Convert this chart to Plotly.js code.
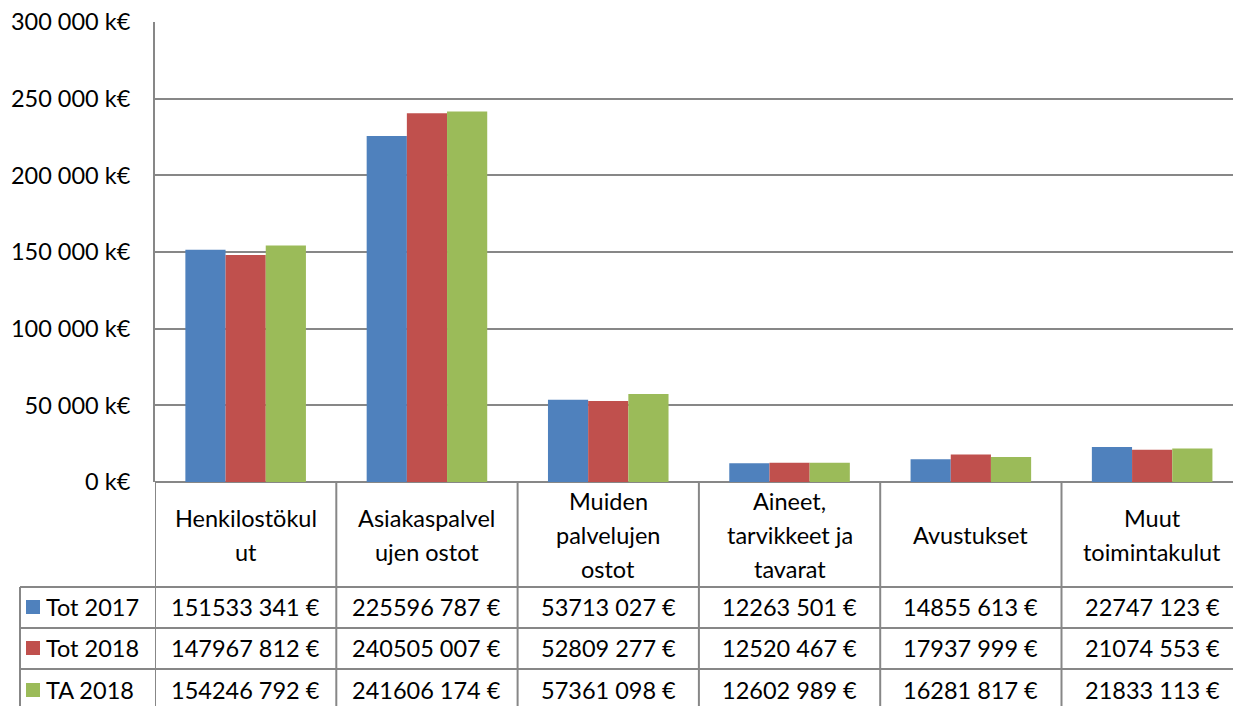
<!DOCTYPE html>
<html>
<head>
<meta charset="utf-8">
<script src="https://cdn.plot.ly/plotly-3.0.1.min.js"></script>
<style>html,body{margin:0;padding:0;background:#fff;}#chart{width:1233px;height:706px;}</style>
</head>
<body>
<div id="chart"></div>
<script>
// ---- data ----
const categories = ["Henkilostökul<br>ut", "Asiakaspalvel<br>ujen ostot", "Muiden<br>palvelujen<br>ostot", "Aineet,<br>tarvikkeet ja<br>tavarat", "Avustukset", "Muut<br>toimintakulut"];
const seriesNames = ["Tot 2017", "Tot 2018", "TA 2018"];
const tot2017 = [151533341, 225596787, 53713027, 12263501, 14855613, 22747123];
const tot2018 = [147967812, 240505007, 52809277, 12520467, 17937999, 21074553];
const ta2018  = [154246792, 241606174, 57361098, 12602989, 16281817, 21833113];
const yTickVals = [0, 50000, 100000, 150000, 200000, 250000, 300000];
const yTickText = ["0 k€", "50 000 k€", "100 000 k€", "150 000 k€", "200 000 k€", "250 000 k€", "300 000 k€"];

// ---- styling ----
const colors = ["#4F81BD", "#C0504D", "#9BBB59"];
const FONT = "Lato";
const FS = 23.5;
const GRID = "#878787";
const W = 1233, H = 706;
const plotL = 155, plotR = 1233, plotT = 22, plotB = 482;
const px2x = p => (p - plotL) / (plotR - plotL);
const py2y = p => (plotB - p) / (plotB - plotT);
const catW = 181.3;
const xMax = -0.5 + (plotR - plotL) / catW;

const allSeries = [tot2017, tot2018, ta2018];
const xIdx = categories.map((c, i) => i);

const traces = allSeries.map((vals, s) => ({
  type: "bar",
  name: seriesNames[s],
  x: xIdx,
  y: vals.map(v => v / 1000),
  marker: {color: colors[s], line: {width: 0}},
  hoverinfo: "skip"
}));

function fmtEuro(v) {
  const hi = Math.floor(v / 1000);
  const lo = String(v % 1000).padStart(3, "0");
  return hi + " " + lo + " €";
}

const shapes = [];
const annotations = [];
const lineStyle = {color: GRID, width: 2};

// table horizontal lines
const rowTops = [587, 628, 669];
rowTops.forEach(py => shapes.push({type: "line", xref: "paper", yref: "paper",
  x0: px2x(20), x1: 1.02, y0: py2y(py), y1: py2y(py), line: lineStyle}));
// left border of legend column
shapes.push({type: "line", xref: "paper", yref: "paper", x0: px2x(20), x1: px2x(20),
  y0: py2y(587), y1: py2y(720), line: lineStyle});
// vertical lines at category boundaries
for (let i = 0; i <= categories.length; i++) {
  shapes.push({type: "line", xref: "x", yref: "paper", x0: i - 0.5, x1: i - 0.5,
    y0: py2y(482), y1: py2y(720), line: lineStyle});
}

// header labels (each line separately)
const lineGap = 34;
categories.forEach((c, i) => {
  const lines = c.split("<br>");
  lines.forEach((t, k) => {
    const cy = 535 + (k - (lines.length - 1) / 2) * lineGap;
    annotations.push({xref: "x", yref: "paper", x: i, y: py2y(cy), text: t,
      showarrow: false, xanchor: "center", yanchor: "middle",
      font: {family: FONT, size: FS, color: "#000"}});
  });
});

// data rows
const rowCenters = [607, 648, 690];
allSeries.forEach((vals, s) => {
  const cy = rowCenters[s];
  shapes.push({type: "rect", xref: "paper", yref: "paper",
    x0: px2x(26), x1: px2x(40), y0: py2y(cy - 7), y1: py2y(cy + 7),
    fillcolor: colors[s], line: {width: 0}});
  annotations.push({xref: "paper", yref: "paper", x: px2x(44), y: py2y(cy), text: seriesNames[s],
    showarrow: false, xanchor: "left", yanchor: "middle",
    font: {family: FONT, size: FS, color: "#000"}});
  vals.forEach((v, i) => {
    annotations.push({xref: "x", yref: "paper", x: i, y: py2y(cy), text: fmtEuro(v),
      showarrow: false, xanchor: "center", yanchor: "middle",
      font: {family: FONT, size: FS, color: "#000"}});
  });
});

const layout = {
  width: W, height: H,
  margin: {l: plotL, r: W - plotR, t: plotT, b: H - plotB, pad: 0},
  paper_bgcolor: "#fff", plot_bgcolor: "#fff",
  showlegend: false,
  barmode: "group",
  bargap: 0.335,
  bargroupgap: 0,
  font: {family: FONT, size: FS, color: "#000"},
  xaxis: {type: "linear", range: [-0.5, xMax], showticklabels: false, ticks: "",
    showgrid: false, zeroline: false, showline: false, fixedrange: true},
  yaxis: {range: [0, 300000], tickmode: "array", tickvals: yTickVals, ticktext: yTickText,
    showgrid: true, gridcolor: GRID, gridwidth: 2, zeroline: true, zerolinecolor: GRID, zerolinewidth: 2,
    showline: true, linecolor: GRID, linewidth: 2, ticks: "outside", ticklen: 18, tickcolor: "rgba(0,0,0,0)",
    tickfont: {family: FONT, size: FS, color: "#000"}, fixedrange: true},
  shapes: shapes,
  annotations: annotations
};

Plotly.newPlot("chart", traces, layout, {displayModeBar: false, staticPlot: true});
</script>
</body>
</html>
